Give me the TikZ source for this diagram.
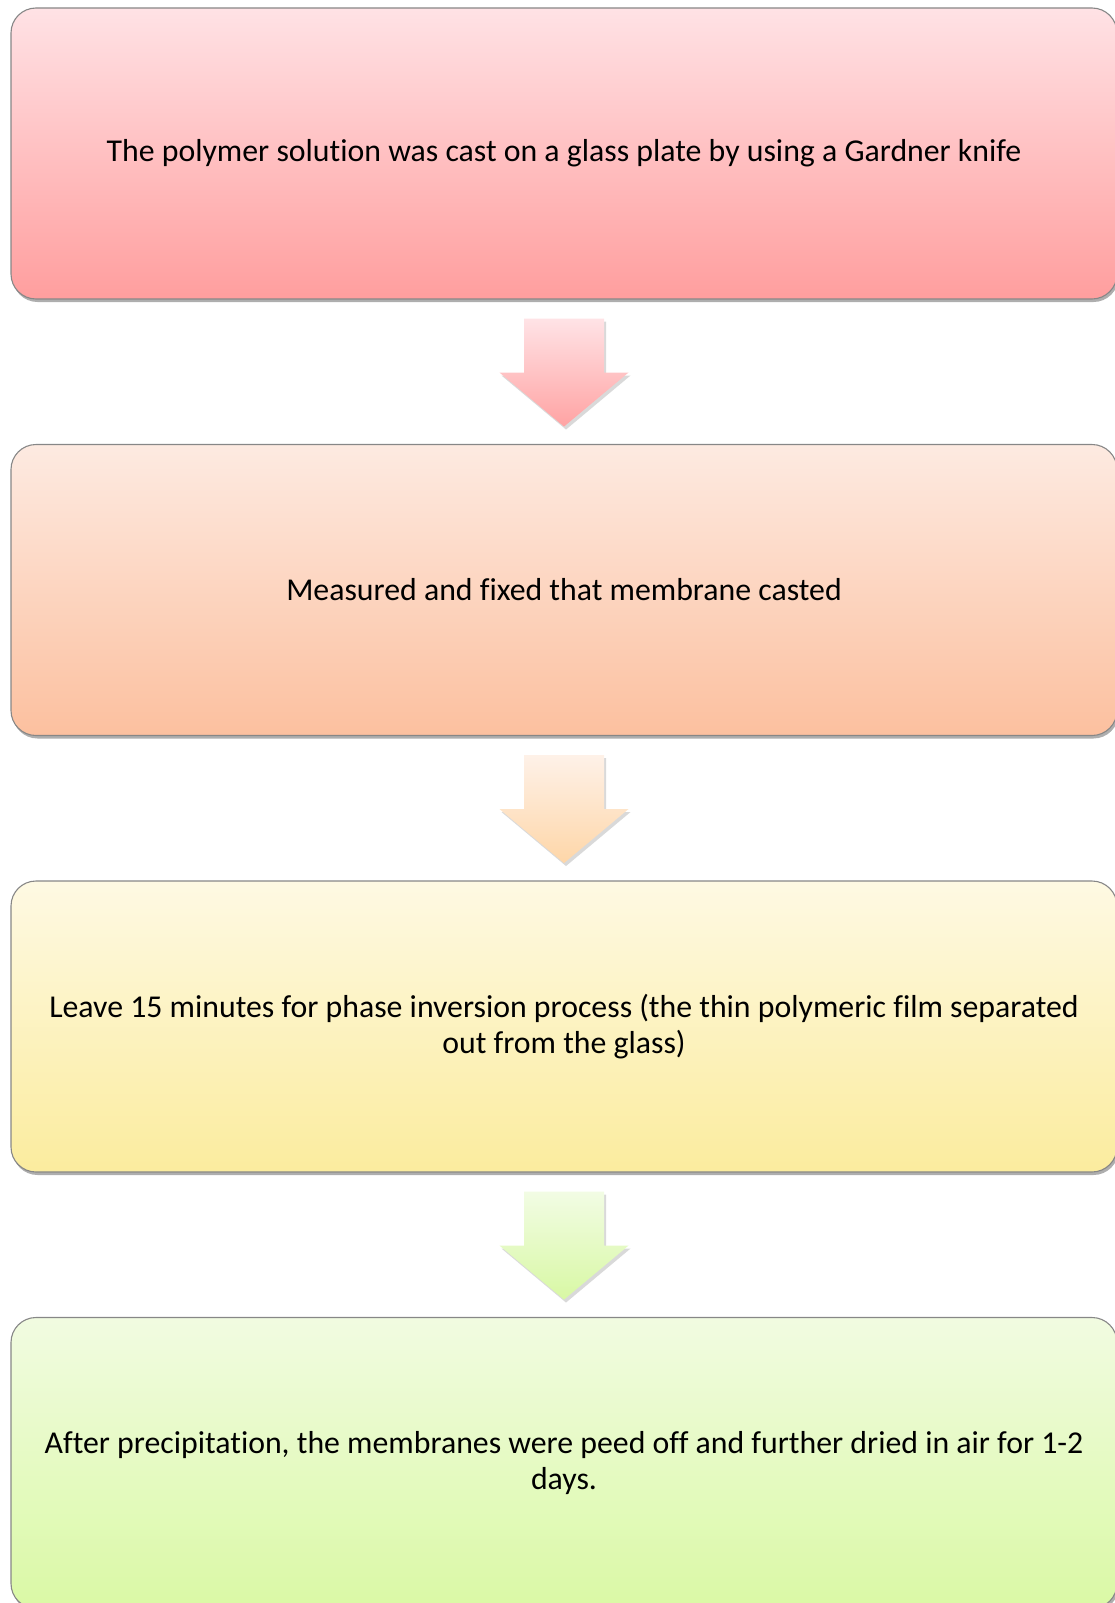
\documentclass[tikz,border=0pt]{standalone}
\usepackage{fontspec}
\setmainfont{Carlito}[Ligatures=NoCommon]
\usetikzlibrary{calc,shadows}
\definecolor{bordergray}{RGB}{135,135,135}
\definecolor{aTop}{HTML}{FFE2E5}\definecolor{aBot}{HTML}{FF9E9E}
\definecolor{bTop}{HTML}{FDEAE1}\definecolor{bBot}{HTML}{FCC09F}
\definecolor{cTop}{HTML}{FEF9E3}\definecolor{cBot}{HTML}{FBEC9E}
\definecolor{dTop}{HTML}{F1FBE1}\definecolor{dBot}{HTML}{DAF9A5}
\definecolor{aaTop}{HTML}{FFE3E6}\definecolor{aaBot}{HTML}{FFA3A3}
\definecolor{bbTop}{HTML}{FEF1E8}\definecolor{bbBot}{HTML}{FED6A8}
\definecolor{ccTop}{HTML}{F2FCE4}\definecolor{ccBot}{HTML}{D8F8A4}
\tikzset{
  stepbox/.style={draw=bordergray, line width=1.1pt, rounded corners=25pt,
    minimum width=1106pt, minimum height=291pt, align=center,
    inner sep=0pt, font=\fontsize{31.8}{36}\selectfont,
    drop shadow={shadow xshift=1.5pt, shadow yshift=-3pt, opacity=0.45, fill=black!70}},
  blockarrow/.style={draw=none,
    drop shadow={shadow xshift=2pt, shadow yshift=-3pt, opacity=0.15, fill=black}}
}
\newcommand{\blockarrow}[4]{%
  % #1 = source node, #2 top colour, #3 bottom colour, #4 name
  \path ($(#1.south)+(0,-19)$) coordinate (#4top);
  \path[blockarrow, top color=#2, bottom color=#3]
    ($(#4top)+(-40,0)$) -- ($(#4top)+(40,0)$) -- ($(#4top)+(40,-54)$)
    -- ($(#4top)+(64.5,-54)$) -- ($(#4top)+(0,-108)$) -- ($(#4top)+(-64.5,-54)$)
    -- ($(#4top)+(-40,-54)$) -- cycle;
}
\begin{document}
\begin{tikzpicture}[x=1pt,y=1pt]
\useasboundingbox (0,0) rectangle (1114,-1603);
\node[stepbox, top color=aTop, bottom color=aBot] (b1) at (564,-153.5)
  {The polymer solution was cast on a glass plate by using a Gardner knife};
\node[stepbox, top color=bTop, bottom color=bBot] (b2) at (564,-590)
  {Measured and fixed that membrane casted};
\node[stepbox, top color=cTop, bottom color=cBot] (b3) at (564,-1026.5)
  {Leave 15 minutes for phase inversion process (the thin polymeric film separated\\out from the glass)};
\node[stepbox, top color=dTop, bottom color=dBot] (b4) at (564,-1463)
  {After precipitation, the membranes were peed off and further dried in air for 1-2\\days.};
\blockarrow{b1}{aaTop}{aaBot}{arA}
\blockarrow{b2}{bbTop}{bbBot}{arB}
\blockarrow{b3}{ccTop}{ccBot}{arC}
\end{tikzpicture}
\end{document}
